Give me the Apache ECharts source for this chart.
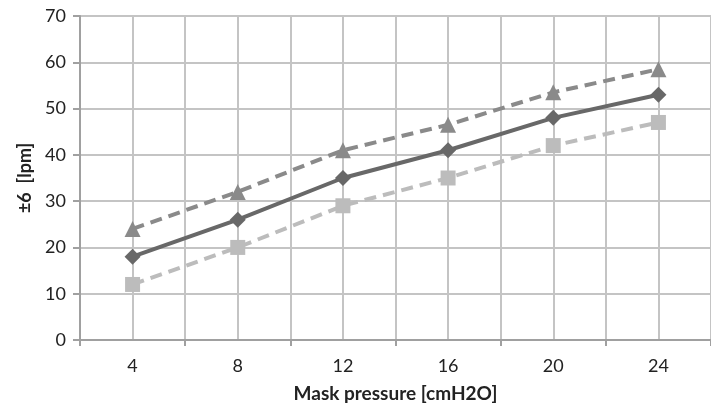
<!DOCTYPE html>
<html>
<head>
<meta charset="utf-8">
<script src="https://cdn.jsdelivr.net/npm/echarts@6/dist/echarts.min.js"></script>
<style>
html,body{margin:0;padding:0;background:#fff;}
#chart{width:711px;height:412px;}
</style>
</head>
<body>
<div id="chart"></div>
<script>
const categories = ['4', '8', '12', '16', '20', '24'];
const upperValues = [24, 32, 41, 46.5, 53.5, 58.5];
const meanValues = [18, 26, 35, 41, 48, 53];
const lowerValues = [12, 20, 29, 35, 42, 47];
const yTicks = { min: 0, max: 70, interval: 10 };
const xFine = { min: 2, max: 26, interval: 2 };

const chart = echarts.init(document.getElementById('chart'));
const gridColor = '#c4c4c4';
const font = 'Lato, "Open Sans", sans-serif';
chart.setOption({
  animation: false,
  grid: { left: 80, right: -7, top: 16, bottom: 72 },
  xAxis: [
    {
      type: 'category',
      data: categories,
      boundaryGap: true,
      name: 'Mask pressure [cmH2O]',
      nameLocation: 'middle',
      nameGap: 44,
      nameTextStyle: { fontFamily: font, fontSize: 19, fontWeight: 'bold', color: '#222' },
      axisLine: { lineStyle: { color: '#a0a0a0', width: 2 } },
      axisTick: { show: true, length: 6, lineStyle: { color: '#a0a0a0', width: 2 } },
      axisLabel: { fontFamily: font, fontSize: 18, color: '#222', margin: 17 },
      splitLine: { show: true, lineStyle: { color: gridColor, width: 2 } }
    },
    {
      type: 'value',
      min: xFine.min,
      max: xFine.max,
      interval: xFine.interval,
      position: 'bottom',
      axisLine: { show: false },
      axisTick: { show: false },
      axisLabel: { show: false },
      splitLine: { show: true, lineStyle: { color: gridColor, width: 2 } }
    }
  ],
  yAxis: {
    type: 'value',
    min: yTicks.min,
    max: yTicks.max,
    interval: yTicks.interval,
    name: '±6  [lpm]',
    nameLocation: 'middle',
    nameGap: 44,
    nameRotate: 90,
    nameTextStyle: { fontFamily: font, fontSize: 18, fontWeight: 'bold', color: '#222' },
    axisLine: { show: true, lineStyle: { color: '#a0a0a0', width: 2 } },
    axisTick: { show: true, length: 7, lineStyle: { color: '#a0a0a0', width: 2 } },
    axisLabel: { fontFamily: font, fontSize: 18, color: '#222', margin: 14 },
    splitLine: { show: true, lineStyle: { color: gridColor, width: 2 } }
  },
  series: [
    {
      type: 'line',
      data: upperValues,
      symbol: 'triangle',
      symbolSize: 16,
      itemStyle: { color: '#8a8a8a' },
      lineStyle: { color: '#8a8a8a', width: 4, type: [12, 7] },
      z: 3
    },
    {
      type: 'line',
      data: meanValues,
      symbol: 'diamond',
      symbolSize: 16,
      itemStyle: { color: '#686868' },
      lineStyle: { color: '#686868', width: 4 },
      z: 4
    },
    {
      type: 'line',
      data: lowerValues,
      symbol: 'rect',
      symbolSize: 15,
      itemStyle: { color: '#bcbcbc' },
      lineStyle: { color: '#bcbcbc', width: 4, type: [12, 7] },
      z: 2
    }
  ]
});
</script>
</body>
</html>
